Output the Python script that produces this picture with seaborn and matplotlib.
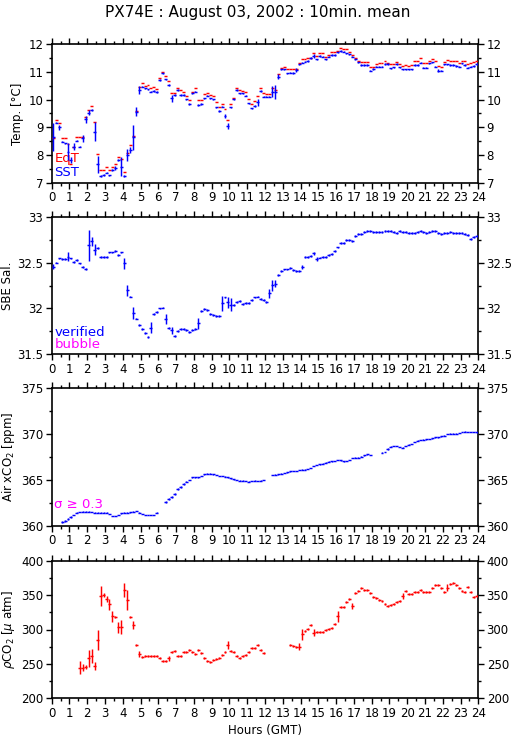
import numpy as np
import pandas as pd
import matplotlib
matplotlib.use("Agg")
import matplotlib.pyplot as plt
import seaborn as sns
from matplotlib.ticker import MultipleLocator, FormatStrFormatter

nan = np.nan

# 10-minute means, stamped at the middle of each interval
minutes = np.arange(5, 1440, 10)

sst = [8.66, 9.17, 9.00, 8.48, 8.42, 8.12,
       7.82, 8.30, 8.52, 8.30, 8.60, 9.29,
       9.53, 9.63, 8.84, 7.66, 7.24, 7.28,
       7.36, 7.27, 7.46, 7.54, 7.82, 7.58,
       7.24, 8.00, 8.18, 8.64, 9.57, 10.35,
       10.47, 10.41, 10.37, 10.29, 10.31, 10.27,
       10.71, 10.95, 10.73, 10.53, 10.05, 10.17,
       10.35, 10.17, 10.17, 10.01, 9.84, 10.23,
       10.29, 9.81, 9.84, 10.05, 10.14, 10.05,
       10.01, 9.72, 9.59, 9.75, 9.41, 9.05,
       9.72, 10.01, 10.35, 10.23, 10.23, 10.14,
       9.87, 9.69, 9.77, 9.90, 10.31, 10.11,
       10.11, 10.11, 10.29, 10.29, 10.83, 11.10,
       11.10, 10.95, 10.98, 10.97, 11.07, 11.28,
       11.34, 11.37, 11.40, 11.50, 11.58, 11.46,
       11.58, 11.55, 11.46, 11.55, 11.61, 11.61,
       11.71, 11.76, 11.73, 11.67, 11.64, 11.55,
       11.46, 11.35, 11.25, 11.25, 11.25, 11.05,
       11.11, 11.19, 11.19, 11.19, 11.29, 11.29,
       11.13, 11.17, 11.29, 11.17, 11.10, 11.10,
       11.10, 11.10, 11.25, 11.25, 11.34, 11.16,
       11.16, 11.31, 11.35, 11.19, 11.05, 11.05,
       11.28, 11.28, 11.25, 11.25, 11.22, 11.19,
       11.31, 11.25, 11.16, 11.19, 11.22, 11.29]

eqt = [8.60, 9.27, 9.17, 8.63, 8.60, 8.40,
       7.66, 8.30, 8.66, 8.66, 8.66, 9.36,
       9.63, 9.78, 9.20, 8.02, 7.46, 7.46,
       7.55, 7.46, 7.58, 7.66, 7.94, 7.84,
       7.40, 8.06, 8.36, 8.70, 9.60, 10.45,
       10.60, 10.50, 10.52, 10.41, 10.45, 10.37,
       10.77, 11.01, 10.87, 10.69, 10.25, 10.23,
       10.41, 10.35, 10.29, 10.13, 9.99, 10.29,
       10.43, 9.99, 9.99, 10.20, 10.25, 10.17,
       10.14, 9.93, 9.75, 9.84, 9.65, 9.27,
       9.84, 10.05, 10.43, 10.35, 10.31, 10.29,
       10.01, 9.84, 9.95, 10.13, 10.41, 10.25,
       10.22, 10.22, 10.41, 10.36, 10.93, 11.16,
       11.19, 11.10, 11.10, 11.10, 11.10, 11.31,
       11.46, 11.46, 11.50, 11.52, 11.67, 11.58,
       11.67, 11.67, 11.55, 11.61, 11.71, 11.73,
       11.77, 11.86, 11.82, 11.82, 11.73, 11.61,
       11.50, 11.40, 11.37, 11.37, 11.37, 11.19,
       11.19, 11.29, 11.31, 11.31, 11.41, 11.31,
       11.29, 11.29, 11.35, 11.29, 11.22, 11.25,
       11.22, 11.25, 11.41, 11.41, 11.50, 11.31,
       11.31, 11.41, 11.46, 11.41, 11.22, 11.19,
       11.35, 11.43, 11.41, 11.41, 11.41, 11.31,
       11.41, 11.41, 11.29, 11.31, 11.35, 11.38]

sal = [32.455, 32.50, 32.545, 32.535, 32.535, 32.565,
       32.545, 32.51, 32.53, 32.49, 32.455, 32.43,
       32.69, 32.73, 32.64, 32.655, 32.565, 32.56,
       32.56, 32.61, 32.61, 32.63, 32.58, 32.61,
       32.49, 32.20, 32.13, 31.95, 31.89, 31.82,
       31.78, 31.73, 31.69, 31.79, 31.94, 31.965,
       32.00, 32.01, 31.885, 31.79, 31.76, 31.70,
       31.75, 31.78, 31.78, 31.765, 31.74, 31.765,
       31.78, 31.84, 31.97, 31.99, 31.98, 31.94,
       31.93, 31.92, 31.92, 32.055, 32.12, 32.07,
       32.04, 32.04, 32.07, 32.08, 32.05, 32.055,
       32.055, 32.09, 32.12, 32.13, 32.10, 32.09,
       32.07, 32.165, 32.255, 32.27, 32.36, 32.41,
       32.425, 32.425, 32.44, 32.42, 32.41, 32.41,
       32.455, 32.56, 32.565, 32.57, 32.60, 32.54,
       32.555, 32.565, 32.565, 32.58, 32.59, 32.63,
       32.665, 32.71, 32.715, 32.75, 32.75, 32.735,
       32.79, 32.81, 32.81, 32.83, 32.845, 32.845,
       32.83, 32.83, 32.83, 32.83, 32.84, 32.845,
       32.84, 32.83, 32.82, 32.84, 32.835, 32.83,
       32.82, 32.82, 32.82, 32.83, 32.84, 32.83,
       32.82, 32.83, 32.84, 32.84, 32.825, 32.81,
       32.82, 32.825, 32.83, 32.825, 32.82, 32.82,
       32.82, 32.81, 32.80, 32.755, 32.775, 32.79]

xco2 = [nan, nan, nan, 360.47, 360.58, 360.72,
        361.00, 361.20, 361.45, 361.52, 361.56, 361.56,
        361.56, 361.52, 361.45, 361.45, 361.45, 361.45,
        361.45, 361.31, 361.09, 361.09, 361.20, 361.38,
        361.45, 361.45, 361.49, 361.56, 361.63, 361.45,
        361.31, 361.20, 361.20, 361.20, 361.20, 361.45,
        nan, nan, 362.58, 362.90, 363.19, 363.49,
        363.99, 364.28, 364.57, 364.83, 365.01, 365.30,
        365.30, 365.30, 365.45, 365.63, 365.70, 365.70,
        365.63, 365.56, 365.45, 365.45, 365.37, 365.30,
        365.19, 365.08, 365.01, 364.94, 364.94, 364.90,
        364.83, 364.90, 364.94, 364.90, 364.95, 365.00,
        nan, nan, 365.56, 365.60, 365.63, 365.70,
        365.78, 365.85, 365.96, 366.00, 366.00, 366.08,
        366.15, 366.15, 366.20, 366.30, 366.55, 366.65,
        366.70, 366.80, 366.90, 367.00, 367.05, 367.10,
        367.20, 367.15, 367.05, 367.10, 367.20, 367.40,
        367.45, 367.45, 367.55, 367.70, 367.80, 367.75,
        nan, nan, nan, 368.00, 368.05, 368.40,
        368.65, 368.70, 368.70, 368.60, 368.55, 368.70,
        368.85, 368.95, 369.15, 369.30, 369.35, 369.40,
        369.45, 369.50, 369.55, 369.65, 369.65, 369.75,
        369.85, 370.00, 370.05, 370.05, 370.05, 370.15,
        370.25, 370.28, 370.25, 370.25, 370.25, 370.20]

pco2 = [nan, nan, nan, nan, nan, nan,
        nan, nan, nan, 244.6, 244.6, 245.0,
        258.0, 261.5, 247.0, 284.7, 348.7, 350.1,
        344.3, 336.6, 319.6, 317.7, 303.1, 303.1,
        357.4, 342.9, 318.6, 306.5, 277.5, 264.4,
        260.5, 261.5, 261.5, 261.5, 261.5, 261.5,
        259.0, 254.7, 254.7, 258.0, 266.8, 268.8,
        262.0, 262.0, 266.8, 266.8, 270.2, 267.8,
        264.4, 270.2, 265.4, 258.0, 254.7, 253.3,
        255.7, 256.7, 258.0, 263.0, 266.8, 277.5,
        269.2, 266.8, 261.5, 259.0, 261.5, 263.0,
        266.8, 272.6, 273.0, 277.0, 270.0, 265.4,
        nan, nan, nan, nan, nan, nan,
        nan, nan, 277.5, 275.5, 275.0, 275.0,
        293.0, 298.3, 300.2, 306.5, 295.4, 296.0,
        296.0, 296.0, 299.3, 300.2, 301.7, 307.5,
        319.6, 332.2, 332.2, 339.5, 343.8, 334.1,
        352.5, 355.9, 360.8, 357.4, 357.4, 352.5,
        346.7, 345.3, 342.9, 341.4, 337.0, 334.1,
        335.6, 336.6, 340.4, 341.9, 348.7, 355.9,
        351.6, 351.6, 354.5, 355.0, 357.4, 355.0,
        355.0, 355.0, 359.8, 364.6, 364.6, 359.8,
        355.0, 360.8, 366.0, 367.0, 364.6, 359.8,
        355.9, 355.0, 361.3, 354.0, 347.7, 348.7]

# standard deviations: usual size plus the larger ones seen in the chart
sst_sd_base = 0.025
sst_sd_big = {0: 0.5, 2: 0.1, 5: 0.3, 6: 0.12, 7: 0.12, 10: 0.12, 11: 0.12,
              12: 0.1, 14: 0.35, 15: 0.3, 21: 0.08, 23: 0.35, 25: 0.2, 26: 0.1,
              27: 0.45, 28: 0.15, 29: 0.15, 40: 0.12, 58: 0.07, 59: 0.1,
              69: 0.12, 74: 0.2, 75: 0.25, 76: 0.08, 82: 0.06, 88: 0.06, 130: 0.06}
sal_sd_base = 0.01
sal_sd_big = {0: 0.03, 5: 0.05, 12: 0.17, 13: 0.05, 14: 0.06, 24: 0.06, 25: 0.06,
              27: 0.07, 33: 0.06, 38: 0.05, 40: 0.04, 49: 0.06, 57: 0.08, 59: 0.06,
              60: 0.07, 73: 0.05, 74: 0.06, 75: 0.04, 84: 0.02, 88: 0.02, 89: 0.02}
xco2_sd_base = 0.03
xco2_sd_big = {3: 0.1, 4: 0.1, 5: 0.1, 6: 0.1, 38: 0.12, 39: 0.12, 40: 0.12,
               41: 0.12, 42: 0.12, 43: 0.12, 44: 0.12, 113: 0.1}
pco2_sd_base = 1.5
pco2_sd_big = {9: 9, 10: 5, 11: 3, 12: 12, 13: 10, 14: 6, 15: 15, 16: 15, 17: 3,
               18: 4, 19: 8, 20: 8, 22: 8, 23: 10, 24: 10, 25: 15, 27: 6, 29: 4,
               39: 4, 59: 6, 83: 5, 84: 8, 88: 5, 96: 8, 101: 5, 118: 5, 133: 5}


def sd_list(base, big):
    out = [base] * len(minutes)
    for k, v in big.items():
        out[k] = v
    return out


df = pd.DataFrame({"hour": minutes / 60.0, "sst": sst, "eqt": eqt, "sal": sal,
                   "xco2": xco2, "pco2": pco2,
                   "sst_sd": sd_list(sst_sd_base, sst_sd_big),
                   "sal_sd": sd_list(sal_sd_base, sal_sd_big),
                   "xco2_sd": sd_list(xco2_sd_base, xco2_sd_big),
                   "pco2_sd": sd_list(pco2_sd_base, pco2_sd_big)})

sns.set_theme(style="ticks")
plt.rcParams["font.family"] = ["DejaVu Sans"]
plt.rcParams["mathtext.fontset"] = "dejavusans"
plt.rcParams["text.color"] = "black"
plt.rcParams["axes.labelcolor"] = "black"

fig = plt.figure(figsize=(5.15, 7.39), dpi=100)
W, H = 515.0, 739.0
left, right = 51.7, 478.3
panels = [(44.3, 182.7), (216.7, 354.3), (388.3, 526.0), (560.7, 698.3)]
axes = [fig.add_axes([left / W, 1 - b / H, (right - left) / W, (b - t) / H])
        for t, b in panels]

half = 5 / 60.0   # each mean covers 10 minutes
lw = 1.05


def crosses(ax, y, sd, color):
    ax.errorbar(df["hour"], df[y], xerr=half, yerr=sd, fmt="none",
                ecolor=color, elinewidth=lw, capsize=0, zorder=3)


ax1, ax2, ax3, ax4 = axes
crosses(ax1, "eqt", None, "red")
crosses(ax1, "sst", df["sst_sd"], "blue")
crosses(ax2, "sal", df["sal_sd"], "blue")
crosses(ax3, "xco2", df["xco2_sd"], "blue")
crosses(ax4, "pco2", df["pco2_sd"], "red")

settings = [
    (ax1, (7, 12), 1, 0.5, "Temp. [°C]", 24),
    (ax2, (31.5, 33), 0.5, 0.25, "SBE Sal.", 14),
    (ax3, (360, 375), 5, 2.5, "Air xCO$_2$ [ppm]", 17),
    (ax4, (200, 400), 50, 25, "$\\rho$CO$_2$ [$\\mu$ atm]", 17),
]
for ax, ylim, ymaj, ymin, lab, labx in settings:
    ax.set_xlim(0, 24)
    ax.set_ylim(*ylim)
    ax.xaxis.set_major_locator(MultipleLocator(1))
    ax.xaxis.set_minor_locator(MultipleLocator(0.5))
    ax.yaxis.set_major_locator(MultipleLocator(ymaj))
    ax.yaxis.set_minor_locator(MultipleLocator(ymin))
    ax.yaxis.set_major_formatter(FormatStrFormatter("%g"))
    ax.tick_params(which="both", direction="out", top=True, right=True,
                   labelright=True, width=1, colors="black", labelsize=8.5, pad=2)
    ax.tick_params(which="major", length=4)
    ax.tick_params(which="minor", length=2.5)
    for s in ax.spines.values():
        s.set_linewidth(1.2)
        s.set_color("black")
    ax.set_ylabel(lab, fontsize=8.5, color="black")
    ax.yaxis.set_label_coords((labx - left) / (right - left), 0.5)

ax1.text(0.006, 0.175, "EqT", color="red", fontsize=9.5, va="center",
         transform=ax1.transAxes, zorder=1)
ax1.text(0.006, 0.077, "SST", color="blue", fontsize=9.5, va="center",
         transform=ax1.transAxes, zorder=1)
ax2.text(0.006, 0.162, "verified", color="blue", fontsize=9.5, va="center",
         transform=ax2.transAxes, zorder=1)
ax2.text(0.006, 0.068, "bubble", color="magenta", fontsize=9.5, va="center",
         transform=ax2.transAxes, zorder=1)
ax3.text(0.006, 0.156, "σ ≥ 0.3", color="magenta", fontsize=9.5, va="center",
         transform=ax3.transAxes, zorder=1)

ax4.set_xlabel("Hours (GMT)", fontsize=8.5, labelpad=3, color="black")
fig.text(0.5, 1 - 13 / H, "PX74E : August 03, 2002 : 10min. mean",
         ha="center", va="center", fontsize=11, color="black")

fig.savefig("out.png", dpi=100)
